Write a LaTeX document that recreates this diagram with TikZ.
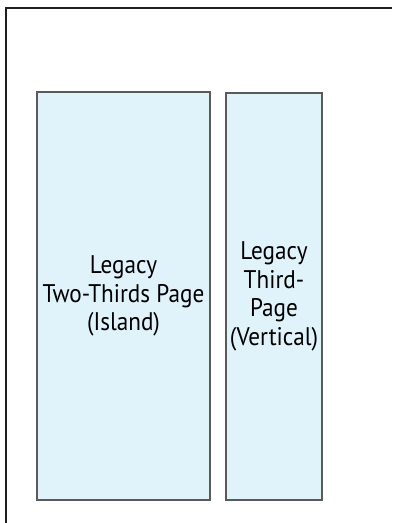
\documentclass[tikz,border=0pt]{standalone}
\usepackage{fontspec}
\setmainfont[FakeStretch=0.91]{PT Sans}
\usepackage{xcolor}
\usepackage{tikz}
\usetikzlibrary{positioning}
\definecolor{adfill}{HTML}{E0F2FA}
\definecolor{adline}{HTML}{5A5A5A}

\begin{document}
\begin{tikzpicture}[x=1pt, y=-1pt,
    adbox/.style={draw=adline, line width=1.3pt, fill=adfill, inner sep=0pt,
        align=center, font=\fontsize{25.5}{28.5}\selectfont}]
    \useasboundingbox (0,0) rectangle (392,523);
    % page frame, cut off at the right and bottom
    \draw[line width=2.8pt, black!88] (6,523) -- (6,8) -- (392,8);
    \node[adbox, minimum width=173pt, minimum height=408pt] (island) at (123.5,296)
        {Legacy\\Two-Thirds Page\\(Island)};
    \node[adbox, minimum width=96pt, minimum height=407pt] (vertical) at (274,296.5)
        {Legacy\\Third-\\Page\\(Vertical)};
\end{tikzpicture}
\end{document}
